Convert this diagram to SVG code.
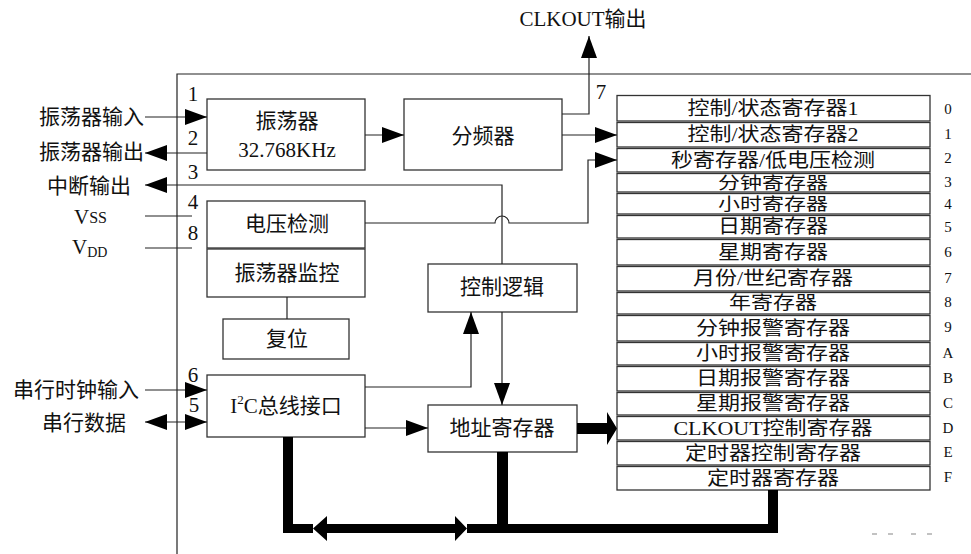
<svg xmlns="http://www.w3.org/2000/svg" width="971" height="554" viewBox="0 0 971 554">
<style>
.box{fill:#fff;stroke:#333;stroke-width:1.3}
.ln{fill:none;stroke:#222;stroke-width:1.2}
.bus{fill:#000;stroke:none}
text{font-family:"Liberation Serif","Noto Sans CJK SC",serif;font-size:21px;fill:#111;dominant-baseline:central}
.c{text-anchor:middle}
.s{text-anchor:start}
.e{text-anchor:end}
.reg{font-size:22px;text-anchor:middle}
.idx{font-size:15px;text-anchor:middle}
.pin{font-size:21px;text-anchor:middle}
.dash{stroke:#999;stroke-width:1.2}
</style>
<defs>
<marker id="ah" markerUnits="userSpaceOnUse" markerWidth="22" markerHeight="16" refX="22" refY="8" orient="auto-start-reverse" viewBox="0 0 22 16">
<path d="M0,0 L22,8 L0,16 Z" fill="#000"/>
</marker>
</defs>

<g id="chip-outline">
<path class="ln" d="M177,554 V74 H971"/>
</g>

<g id="oscillator"><rect class="box" x="207" y="99" width="158" height="71"/>
<text class="c" x="287" y="121">振荡器</text><text class="c" x="287" y="150" font-size="22">32.768KHz</text></g>
<g id="divider"><rect class="box" x="404" y="99" width="158" height="71"/><text class="c" x="483" y="136">分频器</text></g>
<g id="voltage-detect"><rect class="box" x="207" y="201" width="158" height="47"/><text class="c" x="287" y="224">电压检测</text></g>
<g id="osc-monitor"><rect class="box" x="207" y="249" width="158" height="48"/><text class="c" x="287" y="273">振荡器监控</text></g>
<g id="reset"><rect class="box" x="223" y="319" width="126" height="40"/><text class="c" x="287" y="339">复位</text></g>
<g id="control-logic"><rect class="box" x="428" y="264" width="149" height="48"/><text class="c" x="502" y="287">控制逻辑</text></g>
<g id="address-reg"><rect class="box" x="428" y="405" width="149" height="47"/><text class="c" x="502" y="428">地址寄存器</text></g>
<g id="i2c"><rect class="box" x="207" y="375" width="158" height="62"/><text class="c" x="286" y="406">I<tspan font-size="13" dy="-7">2</tspan><tspan dy="7">C总线接口</tspan></text></g>

<g id="registers">
<rect class="box" x="617" y="95.5" width="313" height="25.5"/><text class="reg" transform="translate(773,108) scale(1,0.88)">控制/状态寄存器1</text>
<rect class="box" x="617" y="122.5" width="313" height="24.5"/><text class="reg" transform="translate(773,134) scale(1,0.88)">控制/状态寄存器2</text>
<rect class="box" x="617" y="148.5" width="313" height="23.5"/><text class="reg" transform="translate(773,160) scale(1,0.88)">秒寄存器/低电压检测</text>
<rect class="box" x="617" y="173.5" width="313" height="18.5"/><text class="reg" transform="translate(773,182.5) scale(1,0.78)">分钟寄存器</text>
<rect class="box" x="617" y="193.5" width="313" height="20.5"/><text class="reg" transform="translate(773,203.5) scale(1,0.8)">小时寄存器</text>
<rect class="box" x="617" y="215.5" width="313" height="22.5"/><text class="reg" transform="translate(773,226.5) scale(1,0.88)">日期寄存器</text>
<rect class="box" x="617" y="239.5" width="313" height="25.5"/><text class="reg" transform="translate(773,252) scale(1,0.88)">星期寄存器</text>
<rect class="box" x="617" y="266.5" width="313" height="24.5"/><text class="reg" transform="translate(773,278.5) scale(1,0.88)">月份/世纪寄存器</text>
<rect class="box" x="617" y="292.5" width="313" height="21.5"/><text class="reg" transform="translate(773,303) scale(1,0.85)">年寄存器</text>
<rect class="box" x="617" y="315.5" width="313" height="25.5"/><text class="reg" transform="translate(773,328) scale(1,0.88)">分钟报警寄存器</text>
<rect class="box" x="617" y="342.5" width="313" height="22.5"/><text class="reg" transform="translate(773,353.5) scale(1,0.88)">小时报警寄存器</text>
<rect class="box" x="617" y="366.5" width="313" height="24.5"/><text class="reg" transform="translate(773,378.5) scale(1,0.88)">日期报警寄存器</text>
<rect class="box" x="617" y="392.5" width="313" height="22.5"/><text class="reg" transform="translate(773,403.5) scale(1,0.88)">星期报警寄存器</text>
<rect class="box" x="617" y="416.5" width="313" height="23.5"/><text class="reg" transform="translate(773,428) scale(1,0.88)">CLKOUT控制寄存器</text>
<rect class="box" x="617" y="441.5" width="313" height="23.5"/><text class="reg" transform="translate(773,453) scale(1,0.88)">定时器控制寄存器</text>
<rect class="box" x="617" y="466.5" width="313" height="23.5"/><text class="reg" transform="translate(773,478) scale(1,0.88)">定时器寄存器</text>
</g>

<g id="register-index">
<text class="idx" x="948" y="109">0</text><text class="idx" x="948" y="134">1</text><text class="idx" x="948" y="158">2</text>
<text class="idx" x="948" y="182">3</text><text class="idx" x="948" y="204">4</text><text class="idx" x="948" y="227">5</text>
<text class="idx" x="948" y="252">6</text><text class="idx" x="948" y="278">7</text><text class="idx" x="948" y="302">8</text>
<text class="idx" x="948" y="327">9</text><text class="idx" x="948" y="353">A</text><text class="idx" x="948" y="378">B</text>
<text class="idx" x="948" y="403">C</text><text class="idx" x="948" y="428">D</text><text class="idx" x="948" y="452">E</text>
<text class="idx" x="948" y="477">F</text>
</g>

<g id="pins">
<text class="e" x="144" y="117">振荡器输入</text>
<text class="e" x="144" y="152">振荡器输出</text>
<text class="s" x="47" y="186">中断输出</text>
<text class="s" x="74" y="217">V<tspan font-size="16">SS</tspan></text>
<text class="s" x="72" y="247">V<tspan font-size="14" dy="5">DD</tspan></text>
<text class="e" x="139" y="390">串行时钟输入</text>
<text class="e" x="126" y="423">串行数据</text>
<text class="c" x="583" y="19">CLKOUT输出</text>
<text class="pin" x="193" y="94">1</text>
<text class="pin" x="193" y="138">2</text>
<text class="pin" x="193" y="172">3</text>
<text class="pin" x="193" y="202">4</text>
<text class="pin" x="193" y="233">8</text>
<text class="pin" x="193" y="375">6</text>
<text class="pin" x="194" y="405">5</text>
<text class="pin" x="601" y="92">7</text>
</g>

<g id="connectors">
<line class="ln" x1="145" y1="117" x2="207" y2="117" marker-end="url(#ah)"/>
<line class="ln" x1="207" y1="153" x2="145" y2="153" marker-end="url(#ah)"/>
<path class="ln" d="M502,264 V185 H145" marker-end="url(#ah)"/>
<line class="ln" x1="145" y1="216" x2="192" y2="216"/>
<line class="ln" x1="145" y1="248" x2="192" y2="248"/>
<line class="ln" x1="365" y1="135" x2="404" y2="135" marker-end="url(#ah)"/>
<line class="ln" x1="562" y1="135" x2="617" y2="135" marker-end="url(#ah)"/>
<path class="ln" d="M562,114 H589 V36" marker-end="url(#ah)"/>
<path class="ln" d="M365,223 H495 A7,7 0 0 1 509,223 H588 V160 H617" marker-end="url(#ah)"/>
<line class="ln" x1="287" y1="297" x2="287" y2="319"/>
<line class="ln" x1="502" y1="312" x2="502" y2="405" marker-end="url(#ah)"/>
<path class="ln" d="M365,387 H471 V312" marker-end="url(#ah)"/>
<line class="ln" x1="365" y1="428" x2="428" y2="428" marker-end="url(#ah)"/>
<line class="ln" x1="145" y1="390" x2="207" y2="390" marker-end="url(#ah)"/>
<line class="ln" x1="145" y1="422" x2="207" y2="422" marker-start="url(#ah)" marker-end="url(#ah)"/>
<polygon class="bus" points="577,423 607,423 607,412 617,428.5 607,445 607,434 577,434"/>
<rect class="bus" x="283" y="437" width="10" height="96"/>
<rect class="bus" x="283" y="524" width="30" height="9"/>
<polygon class="bus" points="313,528.5 327,516 327,524 455,524 455,516 467,528.5 455,541 455,533 327,533 327,541"/>
<rect class="bus" x="467" y="524" width="311" height="9"/>
<rect class="bus" x="497" y="452" width="11" height="72"/>
<rect class="bus" x="768" y="490" width="10" height="43"/>
</g>

<g id="edge-marks">
<line class="dash" x1="872" y1="534" x2="877" y2="534"/>
<line class="dash" x1="888" y1="534" x2="893" y2="534"/>
<line class="dash" x1="911" y1="534" x2="916" y2="534"/>
<line class="dash" x1="927" y1="534" x2="932" y2="534"/>
</g>
</svg>
